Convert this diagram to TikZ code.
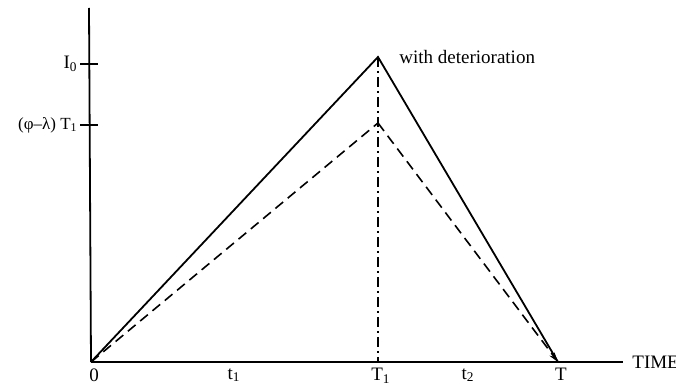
\documentclass[tikz,border=0pt]{standalone}
\usepackage{fontspec}
\setmainfont{Liberation Serif}
\usetikzlibrary{arrows.meta}
\begin{document}
\begin{tikzpicture}[x=0.5pt,y=-0.5pt,
  lbl/.style={inner sep=1pt, font=\fontsize{9.5}{11}\selectfont},
  axis/.style={line width=0.9pt},
  solidline/.style={line width=0.9pt},
  dashline/.style={line width=0.8pt, dash pattern=on 5pt off 3pt},
  dashdotline/.style={line width=0.8pt, dash pattern=on 5pt off 2pt on 1pt off 2pt}]
\useasboundingbox (0,0) rectangle (676,390);
\coordinate (O) at (91,362);
\coordinate (Ytop) at (89,8);
\coordinate (Xend) at (623,362);
\coordinate (P) at (378,57);
\coordinate (Q) at (378,123);
\coordinate (T1) at (378,362);
\coordinate (T) at (558,362);
\coordinate (I0a) at (80,64);
\coordinate (I0b) at (98,64);
\coordinate (Fa) at (80,125);
\coordinate (Fb) at (98,125);
\draw[axis] (O) -- (Ytop);
\draw[axis] (O) -- (Xend);
\draw[axis] (I0a) -- (I0b);
\draw[axis] (Fa) -- (Fb);
\draw[solidline] (O) -- (P) -- (T);
\draw[dashline] (O) -- (Q);
\draw[dashline,-{Stealth[length=5pt,width=3pt]}] (Q) -- (T);
\draw[dashdotline] (P) -- (T1);
\node[lbl,anchor=west] (wd) at (397,57) {with deterioration};
\node[lbl,anchor=east] (i0) at (I0a) {I\textsubscript{0}};
\node[lbl,anchor=east,font=\fontsize{8.5}{10}\selectfont] (fl) at (Fa) {(φ–λ) T\textsubscript{1}};
\node[lbl,anchor=north] (zero) at (94,366) {0};
\node[lbl,anchor=north] (tone) at (234,366) {t\textsubscript{1}};
\node[lbl,anchor=north] (Tone) at (381,366) {T\textsubscript{1}};
\node[lbl,anchor=north] (ttwo) at (468,366) {t\textsubscript{2}};
\node[lbl,anchor=north] (Tlab) at (561,366) {T};
\node[lbl,anchor=west] (time) at (630,362) {TIME};
\end{tikzpicture}
\end{document}
